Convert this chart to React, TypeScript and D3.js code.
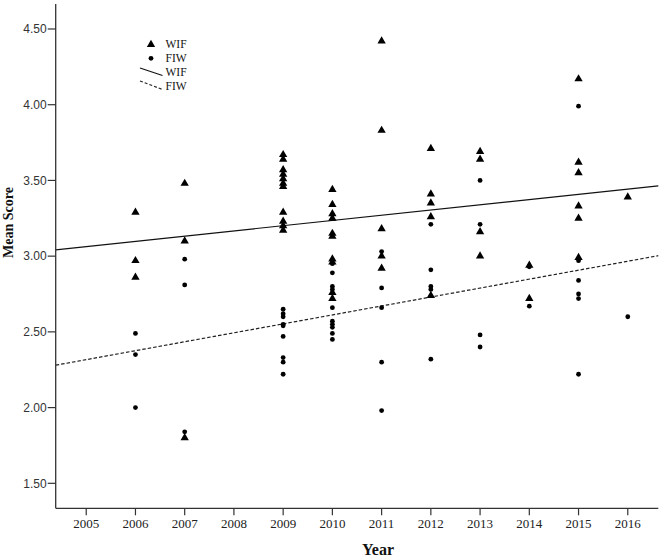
import * as d3 from 'd3'
import React from 'react'

// scores, one list per year
const years = [2006, 2007, 2009, 2010, 2011, 2012, 2013, 2014, 2015, 2016]
const wifScores = [
    [3.29, 2.97, 2.86],
    [3.48, 3.10, 1.80],
    [3.67, 3.64, 3.57, 3.54, 3.51, 3.48, 3.46, 3.29, 3.23, 3.20, 3.17],
    [3.44, 3.34, 3.28, 3.25, 3.15, 3.13, 2.98, 2.96, 2.76, 2.72],
    [4.42, 3.83, 3.18, 3.00, 2.92],
    [3.71, 3.41, 3.35, 3.26, 2.74],
    [3.69, 3.64, 3.16, 3.00],
    [2.94, 2.72],
    [4.17, 3.62, 3.55, 3.33, 3.25, 2.99],
    [3.39],
]
const fiwScores = [
    [2.49, 2.35, 2.00],
    [2.98, 2.81, 1.84],
    [2.65, 2.62, 2.60, 2.55, 2.54, 2.47, 2.33, 2.30, 2.22],
    [2.95, 2.89, 2.80, 2.78, 2.66, 2.57, 2.55, 2.53, 2.49, 2.45],
    [3.03, 2.79, 2.66, 2.30, 1.98],
    [3.21, 2.91, 2.80, 2.78, 2.32],
    [3.50, 3.21, 2.48, 2.40],
    [2.93, 2.67],
    [3.99, 2.97, 2.84, 2.75, 2.72, 2.22],
    [2.60],
]
const xTicks = [2005, 2006, 2007, 2008, 2009, 2010, 2011, 2012, 2013, 2014, 2015, 2016]
const yTicks = [1.5, 2.0, 2.5, 3.0, 3.5, 4.0, 4.5]
// fit lines: value at left and right edge of the x domain
const xDomain = [2004.38, 2016.62]
const wifFit = [3.042, 3.464]
const fiwFit = [2.28, 3.003]

const W = 661
const H = 558
const left = 55.7, right = 658.3, top = 4, bottom = 508.3

const App = () => {
    const x = d3.scaleLinear().domain(xDomain).range([left, right])
    const y = d3.scaleLinear().domain([1.335, 4.665]).range([bottom, top])
    const tri = d3.symbol().type(d3.symbolTriangle).size(30)()
    const line = d3.line<number[]>().x(d => x(d[0])).y(d => y(d[1]))
    const wifPts = years.flatMap((yr, i) => wifScores[i].map(v => [yr, v]))
    const fiwPts = years.flatMap((yr, i) => fiwScores[i].map(v => [yr, v]))
    const serif = '"Liberation Serif", "Times New Roman", serif'
    const sans = '"Liberation Sans", Arial, sans-serif'
    const axisCol = '#333'

    return (
        <svg width={W} height={H} style={{ position: 'absolute', left: 0, top: 0, background: '#fff' }}>
            <rect width={W} height={H} fill="#fff" />
            {/* fit lines */}
            <path d={line([[xDomain[0], wifFit[0]], [xDomain[1], wifFit[1]]]) || ''} stroke="#111" strokeWidth={1.2} fill="none" />
            <path d={line([[xDomain[0], fiwFit[0]], [xDomain[1], fiwFit[1]]]) || ''} stroke="#222" strokeWidth={1.2} strokeDasharray="3.5,2" fill="none" />
            {/* points */}
            {fiwPts.map((p, i) => (
                <circle key={'f' + i} cx={x(p[0])} cy={y(p[1])} r={2.4} fill="#000" />
            ))}
            {wifPts.map((p, i) => (
                <path key={'w' + i} d={tri || ''} transform={`translate(${x(p[0])},${y(p[1])})`} fill="#000" />
            ))}
            {/* axes */}
            <line x1={left} x2={left} y1={top} y2={bottom} stroke={axisCol} strokeWidth={1.3} />
            <line x1={left} x2={right} y1={bottom} y2={bottom} stroke={axisCol} strokeWidth={1.3} />
            {yTicks.map(t => (
                <g key={t}>
                    <line x1={left - 8} x2={left} y1={y(t)} y2={y(t)} stroke={axisCol} strokeWidth={1.2} />
                    <text x={left - 9} y={y(t)} dy="0.35em" textAnchor="end" fontFamily={sans} fontSize={12} fill="#333">{t.toFixed(2)}</text>
                </g>
            ))}
            {xTicks.map(t => (
                <g key={t}>
                    <line x1={x(t)} x2={x(t)} y1={bottom} y2={bottom + 7} stroke={axisCol} strokeWidth={1.2} />
                    <text x={x(t)} y={528.3} textAnchor="middle" fontFamily={serif} fontSize={13} fill="#222">{t}</text>
                </g>
            ))}
            <text x={378} y={555} textAnchor="middle" fontFamily={serif} fontWeight="bold" fontSize={16} fill="#111">Year</text>
            <text transform="translate(12.5,222.5) rotate(-90)" textAnchor="middle" fontFamily={serif} fontWeight="bold" fontSize={14} fill="#111">Mean Score</text>
            {/* legend */}
            <g fontFamily={serif} fontSize={11.5} fill="#111">
                <path d={tri || ''} transform="translate(151,44.5)" fill="#000" />
                <text x={165.5} y={48.3}>WIF</text>
                <circle cx={151} cy={58.3} r={2.4} fill="#000" />
                <text x={165.5} y={62.3}>FIW</text>
                <line x1={140} y1={68} x2={162.5} y2={75.5} stroke="#111" strokeWidth={1.1} />
                <text x={165.5} y={76.3}>WIF</text>
                <line x1={140} y1={81} x2={162.5} y2={89.5} stroke="#222" strokeWidth={1.1} strokeDasharray="3,2" />
                <text x={165.5} y={90.3}>FIW</text>
            </g>
        </svg>
    )
}

export default App
